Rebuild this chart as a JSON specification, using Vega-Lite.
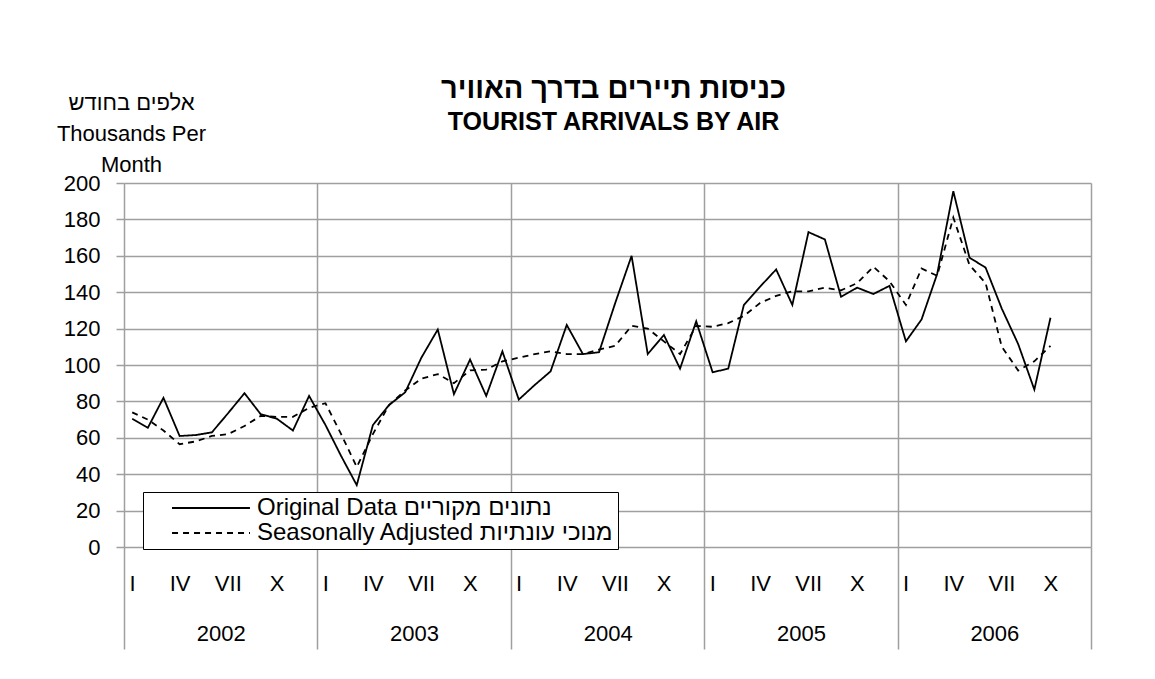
{
  "$schema": "https://vega.github.io/schema/vega-lite/v6.json",
  "width": 967,
  "height": 364,
  "autosize": "none",
  "padding": {"left": 124, "top": 183, "right": 64, "bottom": 132},
  "background": "white",
  "config": {
    "font": "Liberation Sans",
    "view": {"stroke": null},
    "axis": {"labelFont": "Liberation Sans", "titleFont": "Liberation Sans", "labelColor": "black", "titleColor": "black"},
    "legend": {"labelFont": "Liberation Sans"}
  },
  "title": {
    "text": "כניסות תיירים בדרך האוויר",
    "subtitle": "TOURIST ARRIVALS BY AIR",
    "fontSize": 29,
    "fontWeight": "bold",
    "color": "black",
    "subtitleFontSize": 25,
    "subtitleFontWeight": "bold",
    "subtitleColor": "black",
    "subtitleFont": "Liberation Sans",
    "subtitlePadding": 6,
    "anchor": "middle",
    "frame": "group",
    "offset": -44,
    "dx": 6
  },
  "data": {
    "values": [
      {"date": "2002-01", "original": 70.5, "adjusted": 74},
      {"date": "2002-02", "original": 65.5, "adjusted": 70},
      {"date": "2002-03", "original": 82, "adjusted": 64},
      {"date": "2002-04", "original": 61, "adjusted": 56.5},
      {"date": "2002-05", "original": 61.5, "adjusted": 58},
      {"date": "2002-06", "original": 63, "adjusted": 61},
      {"date": "2002-07", "original": 73.5, "adjusted": 62},
      {"date": "2002-08", "original": 84.5, "adjusted": 66.5},
      {"date": "2002-09", "original": 73, "adjusted": 72},
      {"date": "2002-10", "original": 70.5, "adjusted": 71.5},
      {"date": "2002-11", "original": 64, "adjusted": 71.5},
      {"date": "2002-12", "original": 83, "adjusted": 76.5},
      {"date": "2003-01", "original": 67, "adjusted": 79},
      {"date": "2003-02", "original": 50, "adjusted": 62},
      {"date": "2003-03", "original": 34, "adjusted": 44},
      {"date": "2003-04", "original": 67, "adjusted": 62},
      {"date": "2003-05", "original": 78, "adjusted": 78},
      {"date": "2003-06", "original": 85, "adjusted": 86},
      {"date": "2003-07", "original": 104, "adjusted": 92.5},
      {"date": "2003-08", "original": 119.5, "adjusted": 95},
      {"date": "2003-09", "original": 84, "adjusted": 90},
      {"date": "2003-10", "original": 103, "adjusted": 97},
      {"date": "2003-11", "original": 83, "adjusted": 97.5},
      {"date": "2003-12", "original": 107.5, "adjusted": 102},
      {"date": "2004-01", "original": 81, "adjusted": 104},
      {"date": "2004-02", "original": 89, "adjusted": 106},
      {"date": "2004-03", "original": 96.5, "adjusted": 107.5},
      {"date": "2004-04", "original": 122, "adjusted": 106},
      {"date": "2004-05", "original": 106, "adjusted": 106},
      {"date": "2004-06", "original": 107, "adjusted": 108.5},
      {"date": "2004-07", "original": 134, "adjusted": 110.5},
      {"date": "2004-08", "original": 160, "adjusted": 121.5},
      {"date": "2004-09", "original": 106, "adjusted": 120},
      {"date": "2004-10", "original": 116.5, "adjusted": 113},
      {"date": "2004-11", "original": 98, "adjusted": 106},
      {"date": "2004-12", "original": 124, "adjusted": 121.5},
      {"date": "2005-01", "original": 96, "adjusted": 121},
      {"date": "2005-02", "original": 98, "adjusted": 123},
      {"date": "2005-03", "original": 133, "adjusted": 127},
      {"date": "2005-04", "original": 143, "adjusted": 134},
      {"date": "2005-05", "original": 152.5, "adjusted": 138},
      {"date": "2005-06", "original": 133, "adjusted": 140.5},
      {"date": "2005-07", "original": 173, "adjusted": 140.5},
      {"date": "2005-08", "original": 169, "adjusted": 142.5},
      {"date": "2005-09", "original": 137.5, "adjusted": 141},
      {"date": "2005-10", "original": 142.5, "adjusted": 145},
      {"date": "2005-11", "original": 139, "adjusted": 154},
      {"date": "2005-12", "original": 143.5, "adjusted": 146},
      {"date": "2006-01", "original": 113, "adjusted": 133},
      {"date": "2006-02", "original": 125, "adjusted": 153},
      {"date": "2006-03", "original": 150, "adjusted": 149},
      {"date": "2006-04", "original": 195.5, "adjusted": 181},
      {"date": "2006-05", "original": 159, "adjusted": 155},
      {"date": "2006-06", "original": 153.5, "adjusted": 145},
      {"date": "2006-07", "original": 131, "adjusted": 110},
      {"date": "2006-08", "original": 111.5, "adjusted": 97},
      {"date": "2006-09", "original": 86.5, "adjusted": 102},
      {"date": "2006-10", "original": 126, "adjusted": 110.5}
    ]
  },
  "transform": [{"fold": ["original", "adjusted"], "as": ["series", "value"]}],
  "resolve": {"axis": {"x": "independent", "y": "independent"}},
  "layer": [
    {
      "mark": {"type": "line", "color": "black", "strokeWidth": 1.8},
      "encoding": {
        "x": {
          "field": "date", "timeUnit": "utcyearmonth", "type": "temporal", "bandPosition": 0.5,
          "scale": {"domain": [{"year": 2002, "month": 1, "date": 1, "utc": true}, {"year": 2007, "month": 1, "date": 1, "utc": true}]},
          "axis": {
            "orient": "bottom", "title": null, "grid": false, "ticks": false, "tickSize": 0, "domain": false,
            "labelFlush": false, "labelOverlap": false, "labelFontSize": 22, "labelBaseline": "middle", "labelAlign": "center", "labelPadding": 36,
            "values": [
              {"year": 2002, "month": 1, "date": 16, "utc": true}, {"year": 2002, "month": 4, "date": 16, "utc": true}, {"year": 2002, "month": 7, "date": 16, "utc": true}, {"year": 2002, "month": 10, "date": 16, "utc": true},
              {"year": 2003, "month": 1, "date": 16, "utc": true}, {"year": 2003, "month": 4, "date": 16, "utc": true}, {"year": 2003, "month": 7, "date": 16, "utc": true}, {"year": 2003, "month": 10, "date": 16, "utc": true},
              {"year": 2004, "month": 1, "date": 16, "utc": true}, {"year": 2004, "month": 4, "date": 16, "utc": true}, {"year": 2004, "month": 7, "date": 16, "utc": true}, {"year": 2004, "month": 10, "date": 16, "utc": true},
              {"year": 2005, "month": 1, "date": 16, "utc": true}, {"year": 2005, "month": 4, "date": 16, "utc": true}, {"year": 2005, "month": 7, "date": 16, "utc": true}, {"year": 2005, "month": 10, "date": 16, "utc": true},
              {"year": 2006, "month": 1, "date": 16, "utc": true}, {"year": 2006, "month": 4, "date": 16, "utc": true}, {"year": 2006, "month": 7, "date": 16, "utc": true}, {"year": 2006, "month": 10, "date": 16, "utc": true}
            ],
            "labelExpr": "utcmonth(datum.value) == 0 ? 'I' : utcmonth(datum.value) == 3 ? 'IV' : utcmonth(datum.value) == 6 ? 'VII' : 'X'"
          }
        },
        "y": {
          "field": "value", "type": "quantitative", "scale": {"domain": [0, 200]},
          "axis": {
            "orient": "left", "values": [0, 20, 40, 60, 80, 100, 120, 140, 160, 180, 200],
            "grid": true, "gridColor": "#9f9f9f", "gridWidth": 1.5,
            "tickSize": 8, "tickColor": "#9f9f9f", "tickWidth": 1.5, "domain": false,
            "labelFontSize": 22, "labelPadding": 16, "labelFlush": false,
            "title": ["אלפים בחודש", "Thousands Per", "Month"],
            "titleAngle": 0, "titleAlign": "center", "titleBaseline": "middle",
            "titleX": 7, "titleY": -81, "titleFontSize": 22, "titleFontWeight": "normal", "titleLineHeight": 31
          }
        },
        "strokeDash": {
          "field": "series", "type": "nominal",
          "scale": {"domain": ["original", "adjusted"], "range": [[1, 0], [6, 5]]},
          "legend": {
            "orient": "none", "legendX": 19, "legendY": 309, "title": null,
            "symbolType": "M-5,0H5", "symbolSize": 243, "symbolStrokeWidth": 1.8, "symbolStrokeColor": "black",
            "symbolOffset": 52, "labelOffset": 34, "labelFontSize": 24, "labelColor": "black", "labelLimit": 700,
            "padding": 4, "rowPadding": 1, "strokeColor": "black", "fillColor": "white",
            "labelExpr": "datum.label == 'original' ? 'Original Data  נתונים מקוריים' : 'Seasonally Adjusted מנוכי עונתיות'"
          }
        }
      }
    },
    {
      "mark": {"type": "line", "opacity": 0},
      "encoding": {
        "x": {
          "field": "date", "timeUnit": "utcyearmonth", "type": "temporal", "bandPosition": 0.5,
          "axis": {
            "orient": "bottom", "title": null, "labels": false, "domain": false,
            "grid": true, "gridColor": "#9f9f9f", "gridWidth": 1.5,
            "ticks": true, "tickSize": 102, "tickColor": "#9f9f9f", "tickWidth": 1.5,
            "values": [
              {"year": 2002, "month": 1, "date": 1, "utc": true}, {"year": 2003, "month": 1, "date": 1, "utc": true},
              {"year": 2004, "month": 1, "date": 1, "utc": true}, {"year": 2005, "month": 1, "date": 1, "utc": true},
              {"year": 2006, "month": 1, "date": 1, "utc": true}, {"year": 2007, "month": 1, "date": 1, "utc": true}
            ]
          }
        },
        "y": {"field": "value", "type": "quantitative", "axis": null}
      }
    },
    {
      "mark": {"type": "line", "opacity": 0},
      "encoding": {
        "x": {
          "field": "date", "timeUnit": "utcyearmonth", "type": "temporal", "bandPosition": 0.5,
          "axis": {
            "orient": "bottom", "title": null, "grid": false, "ticks": false, "tickSize": 0, "domain": false,
            "labelFlush": false, "labelOverlap": false, "labelFontSize": 22, "labelBaseline": "middle", "labelAlign": "center", "labelPadding": 86,
            "values": [
              {"year": 2002, "month": 7, "date": 2, "hours": 12, "utc": true}, {"year": 2003, "month": 7, "date": 2, "hours": 12, "utc": true},
              {"year": 2004, "month": 7, "date": 2, "hours": 12, "utc": true}, {"year": 2005, "month": 7, "date": 2, "hours": 12, "utc": true},
              {"year": 2006, "month": 7, "date": 2, "hours": 12, "utc": true}
            ],
            "labelExpr": "'' + utcyear(datum.value)"
          }
        },
        "y": {"field": "value", "type": "quantitative", "axis": null}
      }
    }
  ]
}
